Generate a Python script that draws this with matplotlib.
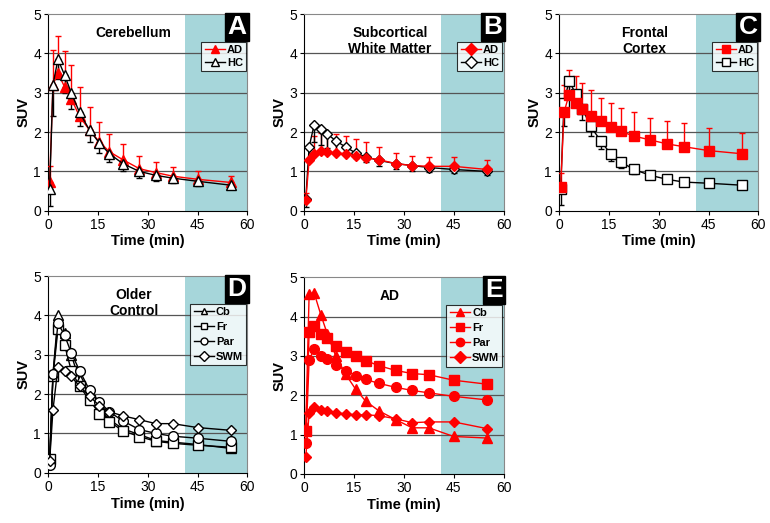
import numpy as np
import matplotlib
matplotlib.use('Agg')
import matplotlib.pyplot as plt
from matplotlib.lines import Line2D

plt.rcParams['font.family'] = ['Liberation Sans', 'DejaVu Sans']

# 시간 (min)
t = [0.5, 1.5, 3, 5, 7, 9.5, 12.5, 15.5, 18.5, 22.5, 27.5, 32.5, 37.5, 45, 55]

# A: Cerebellum
cb_ad = [0.72, 3.2, 3.5, 3.15, 2.85, 2.4, 2.05, 1.75, 1.5, 1.3, 1.07, 0.97, 0.88, 0.8, 0.72]
cb_ad_err = [0.43, 0.9, 0.95, 0.9, 0.85, 0.75, 0.6, 0.5, 0.45, 0.4, 0.33, 0.28, 0.24, 0.22, 0.16]
cb_hc = [0.55, 3.2, 3.85, 3.45, 3.0, 2.5, 2.05, 1.72, 1.45, 1.2, 1.0, 0.9, 0.83, 0.75, 0.65]
cb_hc_err = [0.42, 0.8, 0.5, 0.45, 0.4, 0.35, 0.3, 0.25, 0.22, 0.2, 0.17, 0.15, 0.13, 0.12, 0.1]

# B: Subcortical White Matter
swm_ad = [0.28, 1.28, 1.45, 1.52, 1.5, 1.47, 1.45, 1.4, 1.35, 1.3, 1.2, 1.15, 1.13, 1.13, 1.05]
swm_ad_err = [0.18, 0.3, 0.45, 0.47, 0.48, 0.47, 0.45, 0.42, 0.4, 0.33, 0.28, 0.23, 0.23, 0.23, 0.23]
swm_hc = [0.3, 1.63, 2.18, 2.08, 1.95, 1.78, 1.62, 1.47, 1.37, 1.28, 1.2, 1.15, 1.1, 1.05, 1.0]
swm_hc_err = [0.2, 0.35, 0.42, 0.4, 0.35, 0.27, 0.18, 0.13, 0.13, 0.14, 0.13, 0.13, 0.12, 0.1, 0.1]

# C: Frontal Cortex
fr_ad = [0.6, 2.5, 2.95, 2.75, 2.6, 2.42, 2.27, 2.13, 2.02, 1.9, 1.8, 1.7, 1.63, 1.53, 1.45]
fr_ad_err = [0.35, 0.7, 0.62, 0.67, 0.65, 0.66, 0.6, 0.6, 0.6, 0.6, 0.57, 0.58, 0.59, 0.57, 0.53]
fr_hc = [0.55, 2.75, 3.3, 2.98, 2.6, 2.15, 1.78, 1.45, 1.25, 1.05, 0.9, 0.8, 0.73, 0.7, 0.65]
fr_hc_err = [0.4, 0.6, 0.4, 0.35, 0.3, 0.25, 0.2, 0.18, 0.15, 0.12, 0.1, 0.1, 0.08, 0.08, 0.07]

# D: Older Control
oc_cb = [0.35, 2.5, 4.0, 3.55, 3.0, 2.35, 1.9, 1.55, 1.35, 1.12, 0.97, 0.82, 0.78, 0.72, 0.62]
oc_fr = [0.35, 2.45, 3.65, 3.25, 2.6, 2.2, 1.85, 1.5, 1.3, 1.07, 0.92, 0.8, 0.75, 0.7, 0.65]
oc_par = [0.2, 2.5, 3.8, 3.5, 3.05, 2.6, 2.1, 1.8, 1.55, 1.32, 1.1, 1.0, 0.93, 0.88, 0.8]
oc_swm = [0.3, 1.6, 2.68, 2.6, 2.45, 2.2, 1.95, 1.7, 1.55, 1.45, 1.35, 1.25, 1.25, 1.15, 1.08]

# E: AD
ad_cb = [1.2, 4.58, 4.6, 4.05, 3.55, 3.0, 2.53, 2.15, 1.85, 1.6, 1.38, 1.17, 1.17, 0.95, 0.91]
ad_fr = [1.1, 3.6, 3.77, 3.55, 3.45, 3.25, 3.1, 3.0, 2.88, 2.75, 2.63, 2.55, 2.52, 2.38, 2.28]
ad_par = [0.78, 2.9, 3.17, 3.0, 2.93, 2.78, 2.62, 2.5, 2.4, 2.3, 2.2, 2.12, 2.06, 1.97, 1.88]
ad_swm = [0.43, 1.55, 1.7, 1.62, 1.6, 1.55, 1.53, 1.5, 1.5, 1.48, 1.4, 1.3, 1.32, 1.32, 1.15]

RED = '#ff0000'
SHADE = '#a6d6da'

fig = plt.figure(figsize=(7.7, 5.23), dpi=100)

W, H = 0.259, 0.376
pos = {
    'A': [0.0623, 0.597, W, H],
    'B': [0.395, 0.597, W, H],
    'C': [0.726, 0.597, W, H],
    'D': [0.0623, 0.096, W, H],
    'E': [0.395, 0.094, W, H],
}


def setup(ax, letter, title):
    ax.set_xlim(0, 60)
    ax.set_ylim(0, 5)
    ax.axvspan(41.2, 60, color=SHADE, zorder=0, lw=0)
    for y in [1, 2, 3, 4]:
        ax.axhline(y, color='#555555', lw=0.9, zorder=1)
    ax.set_xticks([0, 15, 30, 45, 60])
    ax.set_yticks([0, 1, 2, 3, 4, 5])
    ax.tick_params(labelsize=10, length=3, direction='out', pad=2)
    for s in ['top', 'right']:
        ax.spines[s].set_color('#888888')
    ax.set_xlabel('Time (min)', fontsize=10.5, fontweight='bold', labelpad=2)
    ax.set_ylabel('SUV', fontsize=10.5, fontweight='bold', labelpad=2)
    ax.text(0.995, 0.995, letter, transform=ax.transAxes, ha='right', va='top',
            fontsize=19, fontweight='bold', color='white', zorder=10,
            bbox=dict(boxstyle='square,pad=0.08', fc='black', ec='black'))
    ax.text(0.43, 0.94, title, transform=ax.transAxes, ha='center', va='top',
            fontsize=10, fontweight='bold', linespacing=1.2, zorder=10)


def leg(ax, handles, spacing=0.25):
    lg = ax.legend(handles=handles, loc='upper right', bbox_to_anchor=(1.0, 0.865),
                   fontsize=8, frameon=True, fancybox=False, borderpad=0.3,
                   handlelength=1.8, handletextpad=0.2, labelspacing=spacing,
                   borderaxespad=0.1)
    lg.get_frame().set_edgecolor('black')
    lg.get_frame().set_linewidth(0.8)
    lg.set_zorder(11)
    for txt in lg.get_texts():
        txt.set_fontweight('bold')


def two_groups(ax, ad, ad_err, hc, hc_err, mk, ms, ad_front=True):
    zad = 5 if ad_front else 4
    zhc = 4 if ad_front else 5
    ax.errorbar(t, ad, yerr=[np.zeros(len(ad)), ad_err], fmt='none', ecolor=RED,
                elinewidth=1, capsize=2.5, zorder=3)
    ax.errorbar(t, hc, yerr=[hc_err, np.zeros(len(hc))], fmt='none', ecolor='black',
                elinewidth=1, capsize=2.5, zorder=3)
    ax.plot(t, ad, color=RED, lw=1, marker=mk, ms=ms, mfc=RED, mec=RED, zorder=zad)
    ax.plot(t, hc, color='black', lw=1, marker=mk, ms=ms, mfc='white', mec='black',
            mew=1.0, zorder=zhc)
    h = [Line2D([], [], color=RED, lw=1, marker=mk, ms=6, mfc=RED, mec=RED, label='AD'),
         Line2D([], [], color='black', lw=1, marker=mk, ms=6, mfc='white', mec='black', label='HC')]
    leg(ax, h)


axA = fig.add_axes(pos['A'])
setup(axA, 'A', 'Cerebellum')
two_groups(axA, cb_ad, cb_ad_err, cb_hc, cb_hc_err, '^', 7.5, ad_front=False)

axB = fig.add_axes(pos['B'])
setup(axB, 'B', 'Subcortical\nWhite Matter')
two_groups(axB, swm_ad, swm_ad_err, swm_hc, swm_hc_err, 'D', 5.5)

axC = fig.add_axes(pos['C'])
setup(axC, 'C', 'Frontal\nCortex')
two_groups(axC, fr_ad, fr_ad_err, fr_hc, fr_hc_err, 's', 7.5)

# D: Older Control
axD = fig.add_axes(pos['D'])
setup(axD, 'D', 'Older\nControl')
regions = ['Cb', 'Fr', 'Par', 'SWM']
markers = ['^', 's', 'o', 'D']
sizes = [7.5, 7, 7, 5]
hd = []
for vals, lab, mk, ms in zip([oc_cb, oc_fr, oc_par, oc_swm], regions, markers, sizes):
    axD.plot(t, vals, color='black', lw=1, marker=mk, ms=ms, mfc='white', mec='black', zorder=4)
    hd.append(Line2D([], [], color='black', lw=1, marker=mk, ms=5, mfc='white', mec='black', label=lab))
leg(axD, hd, spacing=0.45)

# E: AD
axE = fig.add_axes(pos['E'])
setup(axE, 'E', 'AD')
he = []
for vals, lab, mk, ms in zip([ad_cb, ad_fr, ad_par, ad_swm], regions, markers, sizes):
    axE.plot(t, vals, color=RED, lw=1, marker=mk, ms=ms, mfc=RED, mec=RED, zorder=4)
    he.append(Line2D([], [], color=RED, lw=1, marker=mk, ms=6, mfc=RED, mec=RED, label=lab))
leg(axE, he, spacing=0.45)

fig.savefig('out.png', dpi=100)
